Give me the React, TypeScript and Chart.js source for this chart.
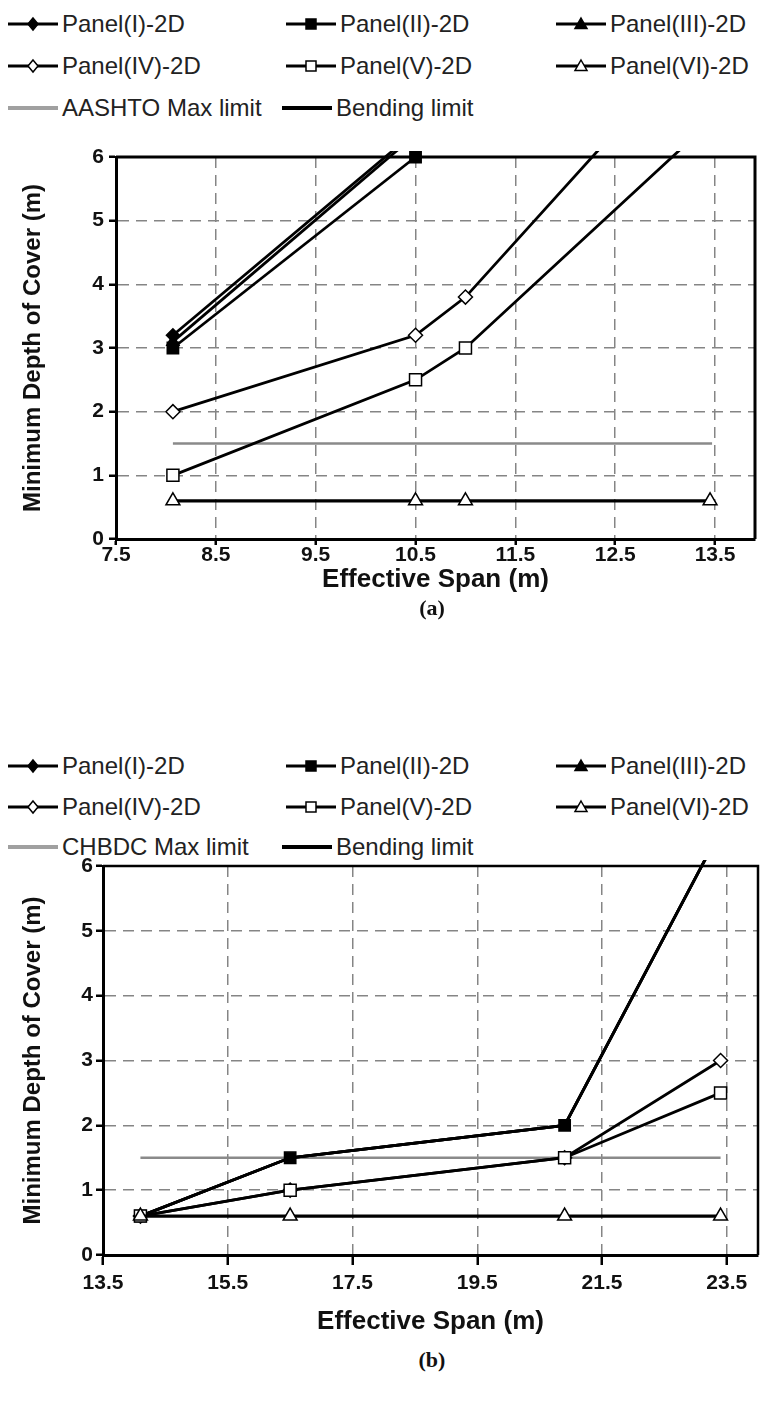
import React, { useEffect, useRef } from 'react';
import { Chart, registerables } from 'chart.js';

Chart.register(...registerables);

const FONT = '"Liberation Sans", Arial, sans-serif';
const SERIF = '"Liberation Serif", "Times New Roman", serif';

// ---------------- Labels ----------------
const seriesLabels = ['Panel(I)-2D', 'Panel(II)-2D', 'Panel(III)-2D', 'Panel(IV)-2D', 'Panel(V)-2D', 'Panel(VI)-2D'];
const limitLabelA = 'AASHTO Max limit';
const limitLabelB = 'CHBDC Max limit';
const bendingLabel = 'Bending limit';
const xTitle = 'Effective Span (m)';
const yTitle = 'Minimum Depth of Cover (m)';

// ---------------- Chart (a) data ----------------
const spanA_I = [8.07, 10.5];
const depthA_I = [3.2, 6.4];
const spanA_II = [8.07, 10.5];
const depthA_II = [3.0, 6.0];
const spanA_III = [8.07, 10.5];
const depthA_III = [3.1, 6.35];
const spanA_IV = [8.07, 10.5, 11.0, 12.5];
const depthA_IV = [2.0, 3.2, 3.8, 6.4];
const spanA_V = [8.07, 10.5, 11.0, 13.45];
const depthA_V = [1.0, 2.5, 3.0, 6.55];
const spanA_VI = [8.07, 10.5, 11.0, 13.45];
const depthA_VI = [0.6, 0.6, 0.6, 0.6];
const spanA_limit = [8.07, 13.47];
const depthA_limit = [1.5, 1.5];

// ---------------- Chart (b) data ----------------
const spanB = [14.1, 16.5, 20.9, 23.4];
const depthB_I = [0.6, 1.5, 2.0, 6.55];
const depthB_II = [0.6, 1.5, 2.0, 6.55];
const depthB_III = [0.6, 1.5, 2.0, 6.55];
const depthB_IV = [0.6, 1.0, 1.5, 3.0];
const depthB_V = [0.6, 1.0, 1.5, 2.5];
const depthB_VI = [0.6, 0.6, 0.6, 0.6];
const spanB_limit = [14.1, 23.4];
const depthB_limit = [1.5, 1.5];

// ---------------- Tick values ----------------
const xTicksA = [7.5, 8.5, 9.5, 10.5, 11.5, 12.5, 13.5];
const xTicksB = [13.5, 15.5, 17.5, 19.5, 21.5, 23.5];
const yTicks = [0, 1, 2, 3, 4, 5, 6];

// ---------------- Styles ----------------
const markerStyles = [
  { shape: 'rectRot', fill: '#000', r: 6.5 },
  { shape: 'rect', fill: '#000', r: 8 },
  { shape: 'triangle', fill: '#000', r: 7 },
  { shape: 'rectRot', fill: '#fff', r: 7 },
  { shape: 'rect', fill: '#fff', r: 8.5 },
  { shape: 'triangle', fill: '#fff', r: 8 },
];

const pts = (xs: number[], ys: number[]) => xs.map((x, i) => ({ x, y: ys[i] }));

function seriesDs(idx: number, xs: number[], ys: number[], rOverride?: number) {
  const m = markerStyles[idx];
  return {
    label: seriesLabels[idx],
    data: pts(xs, ys),
    borderColor: '#000',
    borderWidth: idx === 5 ? 3.2 : 2.8,
    pointStyle: m.shape,
    pointRadius: rOverride ?? m.r,
    pointBackgroundColor: m.fill,
    pointBorderColor: '#000',
    pointBorderWidth: 1.5,
    tension: 0,
    fill: false,
    clip: { left: 6, top: 6, right: 6, bottom: 6 },
    order: 6 - idx,
  };
}

function limitDs(label: string, xs: number[], ys: number[]) {
  return {
    label,
    data: pts(xs, ys),
    borderColor: '#8a8a8a',
    borderWidth: 2.5,
    pointRadius: 0,
    tension: 0,
    fill: false,
    order: 10,
  };
}

const framePlugin = {
  id: 'frame',
  beforeDatasetsDraw(chart: any, _args: any, opts: any) {
    const { ctx, chartArea } = chart;
    const { left, right, top, bottom } = chartArea;
    ctx.save();
    ctx.strokeStyle = '#000';
    ctx.lineWidth = opts.width || 2.5;
    ctx.beginPath();
    ctx.moveTo(left, top);
    ctx.lineTo(right, top);
    ctx.lineTo(right, bottom);
    ctx.stroke();
    ctx.restore();
  },
};

type Layout = {
  xMin: number;
  xMax: number;
  xTicks: number[];
  yWidth: number;
  yTitlePad: number;
  yTickPad: number;
  padTop: number;
  padRight: number;
  frameWidth: number;
  xHeight: number;
  xTickLen: number;
  xTickPad: number;
  xTitlePadBottom: number;
};

function makeConfig(datasets: any[], L: Layout): any {
  const tickFont = { family: FONT, size: 21, weight: 'bold', lineHeight: 1 };
  const xTitleFont = { family: FONT, size: 26, weight: 'bold', lineHeight: 1 };
  const yTitleFont = { family: FONT, size: 24, weight: 'bold', lineHeight: 1 };
  const gridBase = {
    color: '#858585',
    lineWidth: 1.5,
    tickColor: '#000',
    tickWidth: 2.5,
    tickBorderDash: [],
  };
  return {
    type: 'line',
    data: { datasets },
    plugins: [framePlugin],
    options: {
      animation: false,
      responsive: false,
      events: [],
      layout: { padding: { top: L.padTop, left: 0, right: L.padRight, bottom: 0 } },
      plugins: {
        legend: { display: false },
        tooltip: { enabled: false },
        frame: { width: L.frameWidth },
      },
      scales: {
        x: {
          type: 'linear',
          min: L.xMin,
          max: L.xMax,
          afterBuildTicks: (s: any) => {
            s.ticks = L.xTicks.map((v) => ({ value: v }));
          },
          ticks: {
            font: tickFont,
            color: '#111',
            padding: L.xTickPad,
            maxRotation: 0,
            autoSkip: false,
            callback: (v: any) => Number(v).toFixed(1),
          },
          grid: { ...gridBase, tickLength: L.xTickLen },
          border: { display: true, color: '#000', width: 3, dash: [11, 7] },
          title: {
            display: true,
            text: xTitle,
            font: xTitleFont,
            color: '#111',
            padding: { top: 0, bottom: L.xTitlePadBottom },
          },
          afterFit: (s: any) => {
            s.height = L.xHeight;
          },
        },
        y: {
          type: 'linear',
          min: 0,
          max: 6,
          afterBuildTicks: (s: any) => {
            s.ticks = yTicks.map((v) => ({ value: v }));
          },
          ticks: {
            font: tickFont,
            color: '#111',
            padding: L.yTickPad,
            callback: (v: any) => String(v),
          },
          grid: { ...gridBase, tickLength: 7 },
          border: { display: true, color: '#000', width: 3, dash: [11, 7] },
          title: {
            display: true,
            text: yTitle,
            font: yTitleFont,
            color: '#111',
            padding: { top: L.yTitlePad, bottom: 0 },
          },
          afterFit: (s: any) => {
            s.width = L.yWidth;
          },
        },
      },
    },
  };
}

function configA() {
  const datasets = [
    seriesDs(0, spanA_I, depthA_I),
    seriesDs(1, spanA_II, depthA_II),
    seriesDs(2, spanA_III, depthA_III),
    seriesDs(3, spanA_IV, depthA_IV),
    seriesDs(4, spanA_V, depthA_V),
    seriesDs(5, spanA_VI, depthA_VI),
    limitDs(limitLabelA, spanA_limit, depthA_limit),
  ];
  return makeConfig(datasets, {
    xMin: 7.5,
    xMax: 13.9,
    xTicks: xTicksA,
    yWidth: 116,
    yTitlePad: 21,
    yTickPad: 5,
    padTop: 17,
    padRight: 13,
    frameWidth: 3,
    xHeight: 56,
    xTickLen: 6,
    xTickPad: 0,
    xTitlePadBottom: 2,
  });
}

function configB() {
  const datasets = [
    seriesDs(0, spanB, depthB_I, 3),
    seriesDs(1, spanB, depthB_II),
    seriesDs(2, spanB, depthB_III, 3),
    seriesDs(3, spanB, depthB_IV),
    seriesDs(4, spanB, depthB_V),
    seriesDs(5, spanB, depthB_VI),
    limitDs(limitLabelB, spanB_limit, depthB_limit),
  ];
  return makeConfig(datasets, {
    xMin: 13.5,
    xMax: 24.0,
    xTicks: xTicksB,
    yWidth: 103,
    yTitlePad: 21,
    yTickPad: 3,
    padTop: 16,
    padRight: 6,
    frameWidth: 2.5,
    xHeight: 83,
    xTickLen: 10,
    xTickPad: 8,
    xTitlePadBottom: 3,
  });
}

function PlotCanvas({ makeCfg, top, height }: { makeCfg: () => any; top: number; height: number }) {
  const ref = useRef<HTMLCanvasElement>(null);
  useEffect(() => {
    const chart = new Chart(ref.current as HTMLCanvasElement, makeCfg());
    return () => chart.destroy();
  }, []);
  return (
    <canvas
      ref={ref}
      width={768}
      height={height}
      style={{ position: 'absolute', left: 0, top, width: 768, height, display: 'block' }}
    />
  );
}

function Marker({ kind, fill }: { kind: string; fill: string }) {
  const cx = 25;
  const cy = 12;
  if (kind === 'rectRot')
    return <polygon points={`${cx},${cy - 6} ${cx + 5},${cy} ${cx},${cy + 6} ${cx - 5},${cy}`} fill={fill} stroke="#000" strokeWidth={1.5} />;
  if (kind === 'rect') return <rect x={cx - 5} y={cy - 5} width={10} height={10} fill={fill} stroke="#000" strokeWidth={1.5} />;
  if (kind === 'triangle')
    return <polygon points={`${cx},${cy - 6} ${cx + 6},${cy + 4.5} ${cx - 6},${cy + 4.5}`} fill={fill} stroke="#000" strokeWidth={1.5} />;
  return null;
}

function LegendItem({ x, y, label, marker, lineColor, lineWidth }: any) {
  return (
    <div style={{ position: 'absolute', left: x, top: y - 15, height: 30, display: 'flex', alignItems: 'center', whiteSpace: 'nowrap' }}>
      <svg width={50} height={24} style={{ display: 'block' }}>
        <line x1={0} y1={12} x2={50} y2={12} stroke={lineColor} strokeWidth={lineWidth} />
        {marker ? <Marker kind={marker.shape} fill={marker.fill} /> : null}
      </svg>
      <span style={{ marginLeft: 4, fontFamily: FONT, fontSize: 24, color: '#222', lineHeight: '30px' }}>{label}</span>
    </div>
  );
}

function Legend({ rows, limitLabel }: { rows: number[]; limitLabel: string }) {
  const cols = [8, 286, 556];
  const items: any[] = [];
  seriesLabels.forEach((lab, i) => {
    items.push(
      <LegendItem key={lab} x={cols[i % 3]} y={rows[Math.floor(i / 3)]} label={lab} marker={markerStyles[i]} lineColor="#000" lineWidth={3} />
    );
  });
  items.push(<LegendItem key="lim" x={cols[0]} y={rows[2]} label={limitLabel} lineColor="#a0a0a0" lineWidth={4} />);
  items.push(<LegendItem key="bend" x={cols[1] - 4} y={rows[2]} label={bendingLabel} lineColor="#000" lineWidth={4} />);
  return <>{items}</>;
}

function Caption({ text, cx, cy }: { text: string; cx: number; cy: number }) {
  return (
    <div
      style={{
        position: 'absolute',
        left: cx - 60,
        top: cy - 14,
        width: 120,
        height: 28,
        lineHeight: '28px',
        textAlign: 'center',
        fontFamily: SERIF,
        fontWeight: 'bold',
        fontSize: 22,
        color: '#111',
      }}
    >
      {text}
    </div>
  );
}

export default function App() {
  return (
    <div style={{ position: 'absolute', left: 0, top: 0, width: 768, height: 1407, background: '#fff', overflow: 'hidden' }}>
      <Legend rows={[24, 66, 108]} limitLabel={limitLabelA} />
      <PlotCanvas makeCfg={configA} top={140} height={455} />
      <Caption text="(a)" cx={432} cy={608} />
      <Legend rows={[766, 807, 847]} limitLabel={limitLabelB} />
      <PlotCanvas makeCfg={configB} top={850} height={488} />
      <Caption text="(b)" cx={432} cy={1360} />
    </div>
  );
}
